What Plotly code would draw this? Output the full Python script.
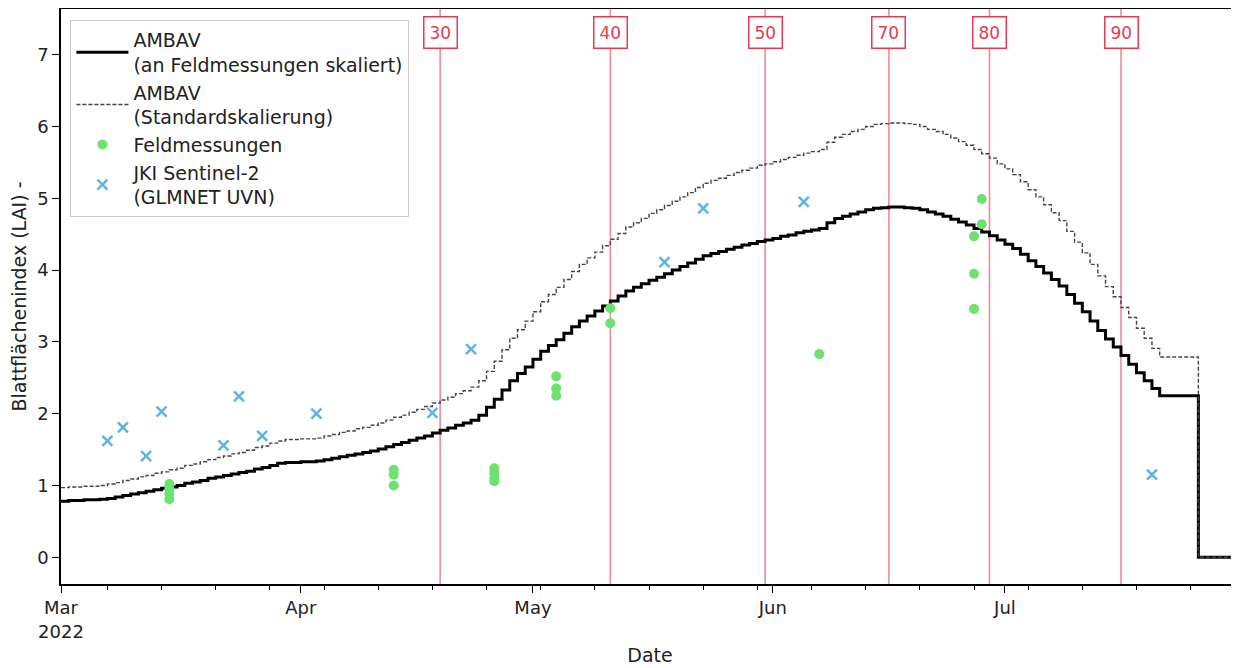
import pandas as pd
import plotly.graph_objects as go

# ---------------- data ----------------
start_date = "2022-03-01"

# AMBAV daily LAI, scaled to field measurements (Mar 1 .. Aug 1)
lai_scaled = [
    0.78, 0.79, 0.79, 0.80, 0.80, 0.81, 0.82, 0.84, 0.86, 0.88,
    0.90, 0.92, 0.94, 0.96, 0.98, 1.00, 1.03, 1.05, 1.07, 1.10,
    1.12, 1.14, 1.16, 1.18, 1.20, 1.23, 1.25, 1.28, 1.31, 1.32,
    1.32, 1.33, 1.33, 1.34, 1.36, 1.38, 1.40, 1.42, 1.44, 1.46,
    1.48, 1.51, 1.54, 1.57, 1.60, 1.63, 1.66, 1.69, 1.73, 1.77,
    1.80, 1.84, 1.87, 1.91, 1.98, 2.09, 2.20, 2.33, 2.46, 2.56,
    2.65, 2.76, 2.87, 2.95, 3.03, 3.12, 3.21, 3.29, 3.36, 3.43,
    3.50, 3.57, 3.64, 3.71, 3.76, 3.81, 3.86, 3.90, 3.95, 4.00,
    4.05, 4.10, 4.15, 4.20, 4.23, 4.26, 4.29, 4.32, 4.35, 4.37,
    4.40, 4.42, 4.44, 4.47, 4.49, 4.52, 4.54, 4.56, 4.58, 4.66,
    4.72, 4.75, 4.78, 4.81, 4.84, 4.86, 4.87, 4.88, 4.88, 4.87,
    4.86, 4.84, 4.81, 4.78, 4.75, 4.71, 4.67, 4.63, 4.58, 4.53,
    4.48, 4.42, 4.36, 4.30, 4.22, 4.13, 4.05, 3.96, 3.87, 3.78,
    3.66, 3.54, 3.42, 3.29, 3.16, 3.04, 2.93, 2.81, 2.69, 2.57,
    2.46, 2.35, 2.25, 2.25, 2.25, 2.25, 2.25, 0.00, 0.00, 0.00,
    0.00, 0.00, 0.00, 0.00,
]

# AMBAV daily LAI, standard scaling
lai_standard = [
    0.97, 0.98, 0.98, 0.99, 0.99, 1.00, 1.02, 1.04, 1.07, 1.09,
    1.12, 1.14, 1.17, 1.19, 1.22, 1.24, 1.28, 1.30, 1.33, 1.36,
    1.39, 1.41, 1.44, 1.46, 1.49, 1.53, 1.55, 1.59, 1.62, 1.64,
    1.64, 1.65, 1.65, 1.66, 1.69, 1.71, 1.74, 1.76, 1.79, 1.81,
    1.84, 1.87, 1.91, 1.95, 1.98, 2.02, 2.06, 2.10, 2.15, 2.19,
    2.23, 2.28, 2.32, 2.37, 2.46, 2.59, 2.73, 2.89, 3.05, 3.17,
    3.29, 3.42, 3.56, 3.66, 3.76, 3.87, 3.98, 4.08, 4.17, 4.25,
    4.34, 4.43, 4.51, 4.60, 4.66, 4.72, 4.79, 4.84, 4.90, 4.96,
    5.02, 5.08, 5.15, 5.21, 5.25, 5.28, 5.32, 5.36, 5.39, 5.42,
    5.46, 5.48, 5.51, 5.54, 5.57, 5.60, 5.63, 5.65, 5.68, 5.78,
    5.85, 5.89, 5.93, 5.96, 6.00, 6.03, 6.04, 6.05, 6.05, 6.04,
    6.03, 6.00, 5.96, 5.93, 5.89, 5.84, 5.79, 5.74, 5.68, 5.62,
    5.56, 5.48, 5.41, 5.33, 5.23, 5.12, 5.02, 4.91, 4.80, 4.69,
    4.54, 4.39, 4.24, 4.08, 3.92, 3.77, 3.63, 3.48, 3.34, 3.19,
    3.05, 2.91, 2.79, 2.79, 2.79, 2.79, 2.79, 0.00, 0.00, 0.00,
    0.00, 0.00, 0.00, 0.00,
]

field_dates = [
    "2022-03-15", "2022-03-15", "2022-03-15", "2022-03-15",
    "2022-04-13", "2022-04-13", "2022-04-13",
    "2022-04-26", "2022-04-26", "2022-04-26", "2022-04-26",
    "2022-05-04", "2022-05-04", "2022-05-04",
    "2022-05-11", "2022-05-11",
    "2022-06-07",
    "2022-06-27", "2022-06-27", "2022-06-27",
    "2022-06-28", "2022-06-28",
]
field_lai = [
    1.02, 0.95, 0.88, 0.81,
    1.22, 1.15, 1.00,
    1.24, 1.17, 1.10, 1.06,
    2.52, 2.35, 2.25,
    3.47, 3.26,
    2.83,
    4.47, 3.95, 3.46,
    4.99, 4.64,
]

s2_dates = [
    "2022-03-07", "2022-03-09", "2022-03-12", "2022-03-14", "2022-03-22",
    "2022-03-24", "2022-03-27", "2022-04-03", "2022-04-18", "2022-04-23",
    "2022-05-18", "2022-05-23", "2022-06-05", "2022-07-20",
]
s2_lai = [
    1.62, 1.81, 1.41, 2.03, 1.56,
    2.24, 1.69, 2.00, 2.01, 2.90,
    4.11, 4.86, 4.95, 1.15,
]

bbch_dates = ["2022-04-19", "2022-05-11", "2022-05-31", "2022-06-16", "2022-06-29", "2022-07-16"]
bbch_labels = ["30", "40", "50", "70", "80", "90"]

month_ticks = ["2022-03-01", "2022-04-01", "2022-05-01", "2022-06-01", "2022-07-01"]
month_labels = ["Mar<br>2022", "Apr", "May", "Jun", "Jul"]
y_ticks = [0, 1, 2, 3, 4, 5, 6, 7]

# ---------------- figure ----------------
days = pd.date_range(start_date, periods=len(lai_scaled), freq="D")

FONT = "DejaVu Sans"
TXT = "#222222"
RED_LINE = "#f08a9b"
RED_BOX = "#e63a50"

fig = go.Figure()

fig.add_trace(go.Scatter(
    x=days, y=lai_scaled, mode="lines", line_shape="hv",
    line=dict(color="black", width=3),
    name="AMBAV<br>(an Feldmessungen skaliert)",
))
fig.add_trace(go.Scatter(
    x=days, y=lai_standard, mode="lines", line_shape="hv",
    line=dict(color="#444444", width=1.4, dash="4px,2px"),
    name="AMBAV<br>(Standardskalierung)",
))
fig.add_trace(go.Scatter(
    x=pd.to_datetime(field_dates), y=field_lai, mode="markers",
    marker=dict(symbol="circle", size=10, color="#6ee26e"),
    name="Feldmessungen",
))
fig.add_trace(go.Scatter(
    x=pd.to_datetime(s2_dates), y=s2_lai, mode="markers",
    marker=dict(symbol="x-thin", size=10, color="#5cb3e6",
                line=dict(color="#5cb3e6", width=2.5)),
    name="JKI Sentinel-2<br>(GLMNET UVN)",
))

for d, lab in zip(bbch_dates, bbch_labels):
    fig.add_shape(type="line", xref="x", yref="paper", x0=d, x1=d, y0=0, y1=1,
                  line=dict(color=RED_LINE, width=1.6), layer="below")
    fig.add_annotation(x=d, y=0.96, xref="x", yref="paper", text=lab,
                       showarrow=False, font=dict(family=FONT, size=17, color=RED_BOX),
                       bgcolor="white", bordercolor=RED_BOX, borderwidth=1.5,
                       borderpad=5, xanchor="center", yanchor="middle")

# the page body adds an 8px offset; the figure is sized to end at the window edge
fig.update_layout(
    width=1231, height=660,
    margin=dict(l=53, r=0, t=1, b=84),
    paper_bgcolor="white", plot_bgcolor="white",
    font=dict(family=FONT, size=18, color=TXT),
    showlegend=True,
    legend=dict(
        x=0.008, y=0.981, xanchor="left", yanchor="top",
        bgcolor="rgba(255,255,255,0.85)", bordercolor="#cccccc", borderwidth=1,
        font=dict(family=FONT, size=19, color=TXT),
        itemwidth=52, tracegroupgap=0,
    ),
)

fig.update_xaxes(
    automargin=False,
    range=["2022-03-01", "2022-07-31 06:00"],
    tickvals=month_ticks, ticktext=month_labels,
    ticks="outside", ticklen=7, tickwidth=1.3, tickcolor="black",
    showline=True, linecolor="black", linewidth=1.5, mirror=True,
    showgrid=False, zeroline=False,
    tickfont=dict(family=FONT, size=18, color=TXT),
    minor=dict(ticks="outside", ticklen=4, tickwidth=1.1, tickcolor="black",
               dtick=7 * 86400000, tick0="2022-03-07", showgrid=False),
    title=dict(text="Date", font=dict(family=FONT, size=19, color=TXT), standoff=8),
)
fig.update_yaxes(
    automargin=False,
    range=[-0.372, 7.637],
    tickvals=y_ticks,
    ticks="outside", ticklen=7, tickwidth=1.3, tickcolor="black",
    showline=True, linecolor="black", linewidth=1.5, mirror=True,
    showgrid=False, zeroline=False,
    tickfont=dict(family=FONT, size=18, color=TXT),
    title=dict(text="Blattflächenindex (LAI) -", font=dict(family=FONT, size=19, color=TXT), standoff=10),
)

fig.write_html("out.html")
